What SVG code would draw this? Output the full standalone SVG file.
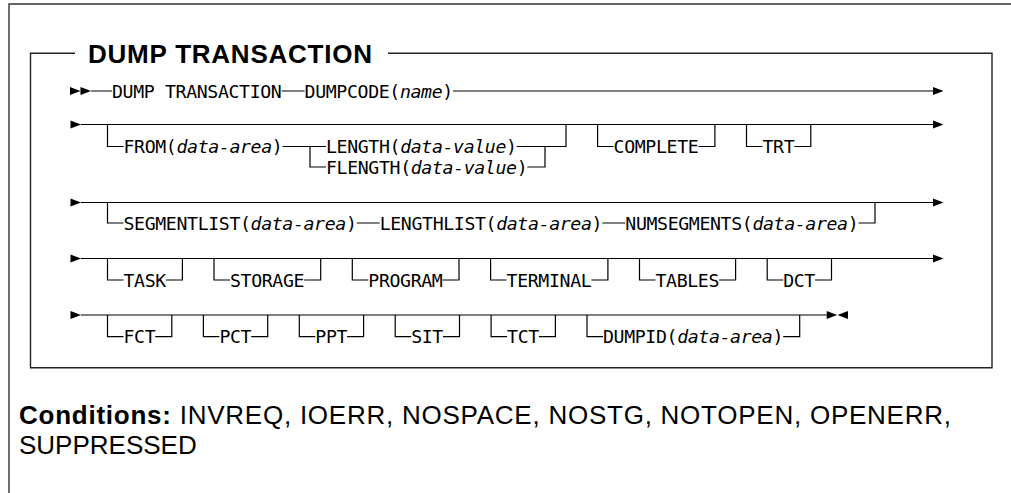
<svg xmlns="http://www.w3.org/2000/svg" xmlns:xlink="http://www.w3.org/1999/xlink" width="1011" height="493" viewBox="0 0 1011 493">
<style>
.t { font-family: "DejaVu Sans Mono", "Liberation Mono", monospace; font-size: 18.2px; letter-spacing: -0.36px; fill: #000; }
.i { font-style: italic; }
.ln { stroke: #000; stroke-width: 1.2; fill: none; }
.frame { stroke: #333; stroke-width: 1.4; fill: none; }
.box { stroke: #222; stroke-width: 1.4; fill: none; }
.title { font-family: "Liberation Sans", Arial, sans-serif; font-weight: bold; font-size: 26px; fill: #000; }
.cond { font-family: "Liberation Sans", Arial, sans-serif; font-size: 26px; fill: #000; }
.arr { fill: #000; }
</style>
<defs>
<path id="ar" class="arr" d="M0,-4 L10.5,0 L0,4 Z"/>
<path id="al" class="arr" d="M10.5,-4 L0,0 L10.5,4 Z"/>
</defs>
<rect x="0" y="0" width="1011" height="493" fill="#fff"/>
<path class="frame" d="M9,493 V4 H1011"/>
<g id="frame-box">
<path class="box" d="M75,53.3 H30.5 V367.7 H992 V53.3 H388"/>
<text class="title" x="88" y="63.3" textLength="284" lengthAdjust="spacing">DUMP TRANSACTION</text>
</g>
<g id="connectors">
<path class="ln" d="M91,91 H112 M281.6,91 H304.6 M453,91 H933"/>
<path class="ln" d="M81,124.5 H933 M107.5,124.5 V146.5 H123.5 M282.5,146.5 H326 M310,146.5 V167 H326 M516.8,146.5 H566 V124.5 M527.4,167 H545 V146.5 M597.6,124.5 V146.5 H613.6 M698.4,146.5 H714.9 V124.5 M746.5,124.5 V146.5 H762.5 M794.3,146.5 H810.8 V124.5"/>
<path class="ln" d="M81,202.5 H933 M107.5,202.5 V223 H123.5 M356.7,223 H379.7 M602.3,223 H625.3 M858.5,223 H875 V202.5"/>
<path class="ln" d="M81,258.5 H933 M107.5,258.5 V280 H123.5 M165.9,280 H182.4 V258.5 M214,258.5 V280 H230 M304.2,280 H320.7 V258.5 M352.3,258.5 V280 H368.3 M442.5,280 H459 V258.5 M490.6,258.5 V280 H506.6 M591.4,280 H607.9 V258.5 M639.5,258.5 V280 H655.5 M719.1,280 H735.6 V258.5 M767.2,258.5 V280 H783.2 M815,280 H831.5 V258.5"/>
<path class="ln" d="M81,315 H826.7 M107.5,315 V336.7 H123.5 M155.3,336.7 H171.8 V315 M203.4,315 V336.7 H219.4 M251.2,336.7 H267.7 V315 M299.3,315 V336.7 H315.3 M347.1,336.7 H363.6 V315 M395.2,315 V336.7 H411.2 M443,336.7 H459.5 V315 M491.1,315 V336.7 H507.1 M538.9,336.7 H555.4 V315 M587,315 V336.7 H603 M783.2,336.7 H799.7 V315"/>
<use xlink:href="#ar" x="70" y="91"/>
<use xlink:href="#ar" x="80.5" y="91"/>
<use xlink:href="#ar" x="933" y="91"/>
<use xlink:href="#ar" x="70.5" y="124.5"/>
<use xlink:href="#ar" x="933" y="124.5"/>
<use xlink:href="#ar" x="70.5" y="202.5"/>
<use xlink:href="#ar" x="933" y="202.5"/>
<use xlink:href="#ar" x="70.5" y="258.5"/>
<use xlink:href="#ar" x="933" y="258.5"/>
<use xlink:href="#ar" x="70.5" y="315"/>
<use xlink:href="#ar" x="826.7" y="315"/>
<use xlink:href="#al" x="837.5" y="315"/>
</g>
<g id="n-dump-transaction"><text class="t" x="112" y="97.6">DUMP TRANSACTION</text></g>
<g id="n-dumpcode"><text class="t" x="304.6" y="97.6">DUMPCODE(<tspan class="i">name</tspan>)</text></g>
<g id="n-from"><text class="t" x="123.5" y="153.1">FROM(<tspan class="i">data-area</tspan>)</text></g>
<g id="n-length"><text class="t" x="326" y="153.1">LENGTH(<tspan class="i">data-value</tspan>)</text></g>
<g id="n-flength"><text class="t" x="326" y="173.6">FLENGTH(<tspan class="i">data-value</tspan>)</text></g>
<g id="n-complete"><text class="t" x="613.6" y="153.1">COMPLETE</text></g>
<g id="n-trt"><text class="t" x="762.5" y="153.1">TRT</text></g>
<g id="n-segmentlist"><text class="t" x="123.5" y="229.6">SEGMENTLIST(<tspan class="i">data-area</tspan>)</text></g>
<g id="n-lengthlist"><text class="t" x="379.7" y="229.6">LENGTHLIST(<tspan class="i">data-area</tspan>)</text></g>
<g id="n-numsegments"><text class="t" x="625.3" y="229.6">NUMSEGMENTS(<tspan class="i">data-area</tspan>)</text></g>
<g id="n-task"><text class="t" x="123.5" y="286.6">TASK</text></g>
<g id="n-storage"><text class="t" x="230" y="286.6">STORAGE</text></g>
<g id="n-program"><text class="t" x="368.3" y="286.6">PROGRAM</text></g>
<g id="n-terminal"><text class="t" x="506.6" y="286.6">TERMINAL</text></g>
<g id="n-tables"><text class="t" x="655.5" y="286.6">TABLES</text></g>
<g id="n-dct"><text class="t" x="783.2" y="286.6">DCT</text></g>
<g id="n-fct"><text class="t" x="123.5" y="343.3">FCT</text></g>
<g id="n-pct"><text class="t" x="219.4" y="343.3">PCT</text></g>
<g id="n-ppt"><text class="t" x="315.3" y="343.3">PPT</text></g>
<g id="n-sit"><text class="t" x="411.2" y="343.3">SIT</text></g>
<g id="n-tct"><text class="t" x="507.1" y="343.3">TCT</text></g>
<g id="n-dumpid"><text class="t" x="603" y="343.3">DUMPID(<tspan class="i">data-area</tspan>)</text></g>
<g id="conditions">
<text class="cond" x="19" y="423.5" textLength="932" lengthAdjust="spacing"><tspan font-weight="bold">Conditions:</tspan> INVREQ, IOERR, NOSPACE, NOSTG, NOTOPEN, OPENERR,</text>
<text class="cond" x="19" y="453.5">SUPPRESSED</text>
</g>
</svg>
